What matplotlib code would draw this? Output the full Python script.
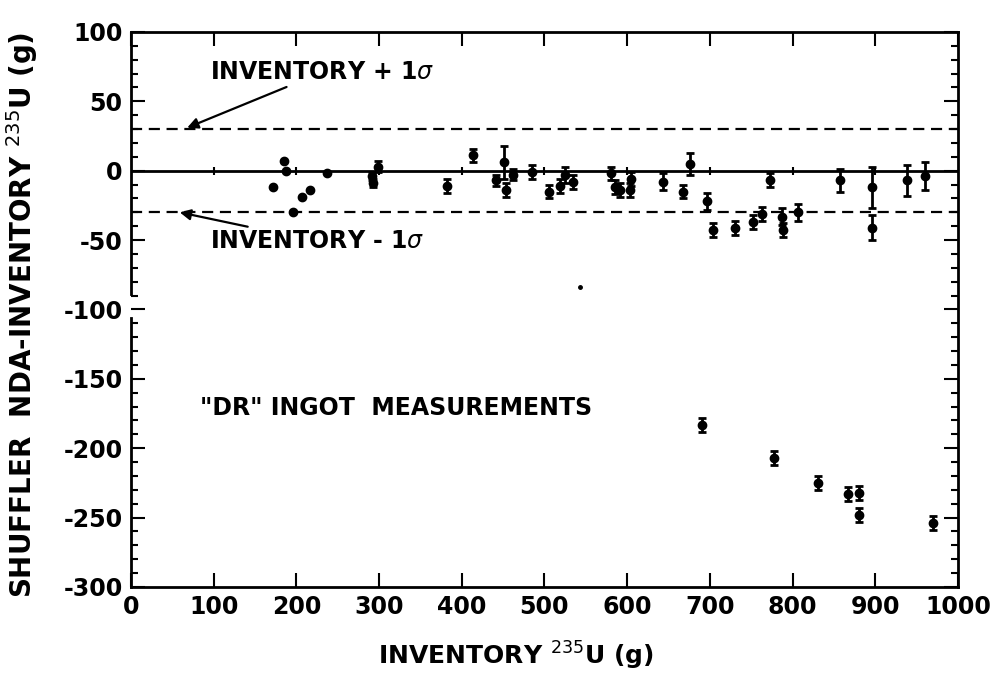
import matplotlib
matplotlib.use('Agg')
import matplotlib.pyplot as plt
import numpy as np

# data
inv = [185, 188, 172, 196, 207, 216, 237, 291, 293, 299, 382, 414, 442, 451,
       454, 462, 485, 505, 519, 525, 534, 581, 585, 591, 603, 605, 643, 667,
       676, 696, 704, 730, 752, 763, 773, 787, 789, 807, 857, 896, 896, 938,
       960, 690, 778, 831, 867, 880, 880, 970]
diff = [7, 0, -12, -30, -19, -14, -2, -4, -9, 3, -11, 11, -7, 6,
        -14, -3, -1, -15, -11, -3, -8, -2, -12, -14, -14, -6, -8, -15,
        5, -22, -43, -41, -37, -31, -7, -33, -43, -30, -7, -12, -41, -7,
        -4, -183, -207, -225, -233, -232, -248, -254]
err = [0, 0, 0, 0, 0, 0, 0, 3, 3, 4, 5, 5, 4, 12,
       5, 4, 5, 5, 5, 6, 5, 5, 5, 5, 5, 5, 6, 5,
       8, 6, 5, 5, 5, 5, 5, 6, 5, 6, 8, 15, 9, 11,
       10, 5, 5, 5, 5, 5, 5, 5]
stray_x, stray_y = [543], [-84]

sigma = 30
xticks = [0, 100, 200, 300, 400, 500, 600, 700, 800, 900, 1000]
yticks = [100, 50, 0, -50, -100, -150, -200, -250, -300]

plt.rcParams['font.family'] = 'DejaVu Sans'
plt.rcParams['axes.unicode_minus'] = False
fig = plt.figure(figsize=(10.02, 6.73), dpi=100)
ax = fig.add_axes([0.1307, 0.1278, 0.8253, 0.8247])

# reference lines
ax.axhline(0, color='black', lw=2, zorder=1)
ax.plot(xticks[1:-1], [0] * 9, ls='none', marker='|', ms=6, mew=1.5, color='black')
ax.axhline(sigma, color='black', lw=1.6, ls=(0, (5, 3)), zorder=1)
ax.axhline(-sigma, color='black', lw=1.6, ls=(0, (5, 3)), zorder=1)

# measurements
ax.errorbar(inv, diff, yerr=err, fmt='o', ms=6, color='black', ecolor='black',
            elinewidth=2, capsize=3, capthick=2, zorder=3)
ax.plot(stray_x, stray_y, 'o', ms=2.5, color='black')

ax.set_xlim(0, 1000)
ax.set_ylim(-300, 100)
ax.set_xticks(xticks)
ax.set_yticks(yticks)
ax.set_yticks(np.arange(-300, 101, 10), minor=True)
ax.tick_params(axis='both', which='major', direction='in', length=10, width=1.5,
               labelsize=17, top=True, right=True, pad=6)
ax.tick_params(axis='both', which='minor', direction='in', length=5, width=1.5,
               right=True)
ax.tick_params(axis='x', which='minor', bottom=False, top=False)
for lab in ax.get_xticklabels() + ax.get_yticklabels():
    lab.set_fontweight('bold')
for s in ['top', 'right', 'bottom']:
    ax.spines[s].set_linewidth(2)

# left spine drawn with the break seen in the scan
ax.spines['left'].set_visible(False)
ax.plot([0, 0], [100, -89], color='black', lw=2, clip_on=False, zorder=4)
ax.plot([0, 0], [-106, -300], color='black', lw=2, clip_on=False, zorder=4)

ax.set_xlabel('INVENTORY $^{235}$U (g)', fontsize=18, fontweight='bold')
ax.set_ylabel('SHUFFLER  NDA-INVENTORY $^{235}$U (g)', fontsize=20, fontweight='bold')
ax.xaxis.set_label_coords(0.465, -0.095)
ax.yaxis.set_label_coords(-0.11, 0.49)

arrow = dict(arrowstyle='-|>', color='black', lw=1.6, mutation_scale=16,
             shrinkA=0, shrinkB=0)
ax.annotate('INVENTORY + 1$\\sigma$', xy=(68, 31), xytext=(96, 71),
            fontsize=17, fontweight='bold', va='center', arrowprops=arrow)
ax.annotate('INVENTORY - 1$\\sigma$', xy=(59, -30), xytext=(96, -51),
            fontsize=17, fontweight='bold', va='center', arrowprops=arrow)
ax.text(83, -171, '"DR" INGOT  MEASUREMENTS', fontsize=17, fontweight='bold', va='center')

fig.savefig('out.png', dpi=100)
